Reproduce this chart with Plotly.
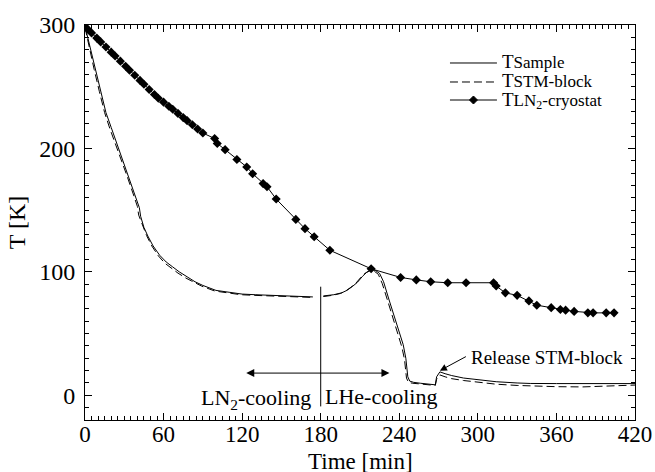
import plotly.graph_objects as go

# ---- data ----
t_sample = [0, 4, 8, 12, 16, 20, 27, 33, 39, 41.5, 42.5, 45, 48, 52, 57, 62, 67, 72, 78, 84,
            90, 100, 110, 120, 130, 140, 155, 174, None, 182, 190, 196, 200, 204, 208, 212, 215, 219, 222, 225,
            228, 232, 236, 240, 243, 245, 246.5, 248, 251, 256, 261, 266, 267.5, 268.5, 271, 275, 280, 289, 300, 314,
            330, 340, 360, 380, 400, 420]
T_sample = [299, 282, 264, 246, 229, 217, 196, 178, 160, 152, 145, 136, 129, 121, 113.5, 108, 104, 100, 96, 92,
            89, 85, 83.5, 82, 81.5, 81, 80.5, 79.7, None, 80.5, 81.5, 83, 85, 88, 91.5, 96.5, 99.5, 102, 101, 98.7,
            92, 78, 64, 52, 41, 30, 15, 11.5, 10.5, 9.8, 9.3, 8.8, 8.5, 15, 19, 17.5, 16, 14, 12.5, 11,
            10, 9.6, 9.5, 9.5, 9.5, 9.5]

t_block = [0, 3, 7, 11, 15, 19, 26, 32, 37.5, 40, 41, 44, 47, 51, 56, 61, 66, 71, 77, 83,
           89, 99, 109, 119, 129, 139, 154, 174, None, 182, 189, 195, 199, 203, 207, 211, 214, 218, 221, 224,
           227, 231, 235, 239, 242, 244, 245.5, 247, 250, 256, 261, 266, 267.5, 268.5, 271, 275, 280, 289, 300, 314,
           330, 340, 360, 380, 400, 420]
T_block = [298, 283, 264, 246, 229, 216, 196, 178, 161, 153, 146, 137, 129.5, 121, 113, 107, 103, 99, 95, 91.5,
           88.5, 84.5, 83, 81.5, 81, 80.5, 80, 79.3, None, 80, 81, 82.5, 84.5, 87.5, 91, 96, 99, 101.5, 100.5, 98,
           90.5, 77, 63, 50, 39, 29, 14, 10.5, 9.8, 9.2, 8.7, 8.3, 8, 13, 16.5, 15, 13.5, 12, 10.5, 9,
           8, 7.5, 7, 6.8, 7.4, 8.3]

t_cryo = [0, 2, 5, 9, 12, 16, 20, 23, 27, 31, 34, 38, 42, 45, 49, 53, 56, 60, 64, 67, 71, 75, 78, 82, 86, 90,
          99, 101, 107, 116, 123.5, 128, 136, 139, 146, 161, 168, 175, 187, 218.5, 241,
          253, 264, 277, 291, 312, 314, 321, 330, 339, 345, 356, 363, 367, 373.5, 384, 388, 398, 404]
T_cryo = [298.5, 296.7, 293.6, 289.4, 286.3, 282.2, 278, 274.9, 270.7, 266.6, 263.4, 259.3, 255.1, 252, 247.8,
          243.7, 240.6, 237.5, 234.2, 231.7, 228.4, 225, 222.5, 219.2, 215.8, 212.5,
          208, 204, 199, 191, 185, 179.5, 171.5, 169, 159, 142.5, 135, 128.5, 117.5, 102.5, 95.5,
          93.5, 92, 91.2, 91.2, 91.2, 88.5, 83, 81, 76.5, 73, 71, 69.5, 69, 68, 66.8, 66.8, 66.8, 66.8]

x_ticks = [0, 60, 120, 180, 240, 300, 360, 420]
y_ticks = [0, 100, 200, 300]

legend_text = ("<span style='font-size:19px'>T</span><span style='font-size:17px'>Sample</span><br>"
               "<span style='font-size:19px'>T</span><span style='font-size:17px'>STM-block</span><br>"
               "<span style='font-size:19px'>T</span><span style='font-size:17px'>LN<sub>2</sub>-cryostat</span>")

FONT = "Liberation Serif"
DASH = "8px,4px"

fig = go.Figure()
fig.add_trace(go.Scatter(x=t_sample, y=T_sample, mode="lines", name="T Sample",
                         line=dict(color="black", width=1), connectgaps=False, showlegend=False))
fig.add_trace(go.Scatter(x=t_block, y=T_block, mode="lines", name="T STM-block",
                         line=dict(color="black", width=1, dash=DASH), connectgaps=False, showlegend=False))
fig.add_trace(go.Scatter(x=t_cryo, y=T_cryo, mode="lines+markers", name="T LN2-cryostat",
                         line=dict(color="black", width=1),
                         marker=dict(symbol="diamond", size=7, color="black"), showlegend=False))

axis_common = dict(showline=True, linecolor="black", linewidth=1, mirror="ticks",
                   ticks="inside", ticklen=7, tickwidth=1, tickcolor="black",
                   showgrid=False, zeroline=False, automargin=False)

fig.update_xaxes(range=[0, 420], tickvals=x_ticks, ticktext=[str(v) for v in x_ticks],
                 minor=dict(dtick=5, tick0=0, ticks="inside", ticklen=4, tickcolor="black", showgrid=False),
                 tickfont=dict(family=FONT, size=23, color="black"),
                 **axis_common)
try:
    fig.update_xaxes(ticklabelstandoff=-7)
except ValueError:
    fig.update_xaxes(ticklabelstandoff=0)
fig.update_yaxes(range=[-20, 300], tickvals=y_ticks, ticktext=[str(v) for v in y_ticks],
                 minor=dict(dtick=10, tick0=0, ticks="inside", ticklen=4, tickcolor="black", showgrid=False),
                 tickfont=dict(family=FONT, size=24, color="black"),
                 title=dict(text="T [K]", font=dict(family=FONT, size=24, color="black"), standoff=6),
                 ticklabelstandoff=4,
                 **axis_common)

# x-axis title placed explicitly below the tick labels
fig.add_annotation(x=0.5, y=-0.1063, xref="paper", yref="paper", xanchor="center", yanchor="middle",
                   text="Time [min]", showarrow=False, font=dict(family=FONT, size=23, color="black"))

# phase separator and annotations
fig.add_shape(type="line", x0=180, x1=180, y0=-9, y1=88, xref="x", yref="y",
              line=dict(color="black", width=1))
fig.add_annotation(x=232.5, y=18, ax=122, ay=18, xref="x", yref="y", axref="x", ayref="y",
                   text="", showarrow=True, arrowhead=2, arrowside="end+start",
                   arrowsize=1.6, arrowwidth=1, arrowcolor="black")
fig.add_annotation(x=174, y=-3, xref="x", yref="y", xanchor="right", yanchor="middle",
                   text="LN<sub>2</sub>-cooling", showarrow=False,
                   font=dict(family=FONT, size=22, color="black"))
fig.add_annotation(x=182, y=-1, xref="x", yref="y", xanchor="left", yanchor="middle",
                   text="LHe-cooling", showarrow=False,
                   font=dict(family=FONT, size=22, color="black"))
fig.add_annotation(x=271, y=20, ax=292, ay=32, xref="x", yref="y", axref="x", ayref="y",
                   text="", showarrow=True, arrowhead=2, arrowsize=1.4, arrowwidth=1,
                   arrowcolor="black")
fig.add_annotation(x=293, y=31, xref="x", yref="y", xanchor="left", yanchor="middle",
                   text="Release STM-block", showarrow=False,
                   font=dict(family=FONT, size=19, color="black"))

# hand-drawn legend (paper coordinates)
leg_x0, leg_x1, leg_tx = 0.6636, 0.749, 0.754
leg_rows = [0.9038, 0.8557, 0.8101]
leg_dash = ["solid", DASH, "solid"]
for ry, dsh in zip(leg_rows, leg_dash):
    fig.add_shape(type="line", xref="paper", yref="paper", x0=leg_x0, x1=leg_x1, y0=ry, y1=ry,
                  line=dict(color="black", width=1, dash=dsh))
fig.add_annotation(x=leg_tx, y=leg_rows[1] + 0.002, xref="paper", yref="paper", xanchor="left",
                   yanchor="middle", align="left", text=legend_text, showarrow=False,
                   font=dict(family=FONT, size=14.5, color="black"))
fig.add_shape(type="path", xref="paper", yref="paper", xsizemode="pixel", ysizemode="pixel",
              xanchor=(leg_x0 + leg_x1) / 2, yanchor=leg_rows[2],
              path="M-4,0 L0,4 L4,0 L0,-4 Z", fillcolor="black", line=dict(color="black", width=1))

fig.update_layout(
    width=655, height=472,
    margin=dict(l=85, r=20, t=25, b=52),
    plot_bgcolor="white", paper_bgcolor="white",
    font=dict(family=FONT, color="black"),
    showlegend=False,
)

fig.write_html("out.html")
